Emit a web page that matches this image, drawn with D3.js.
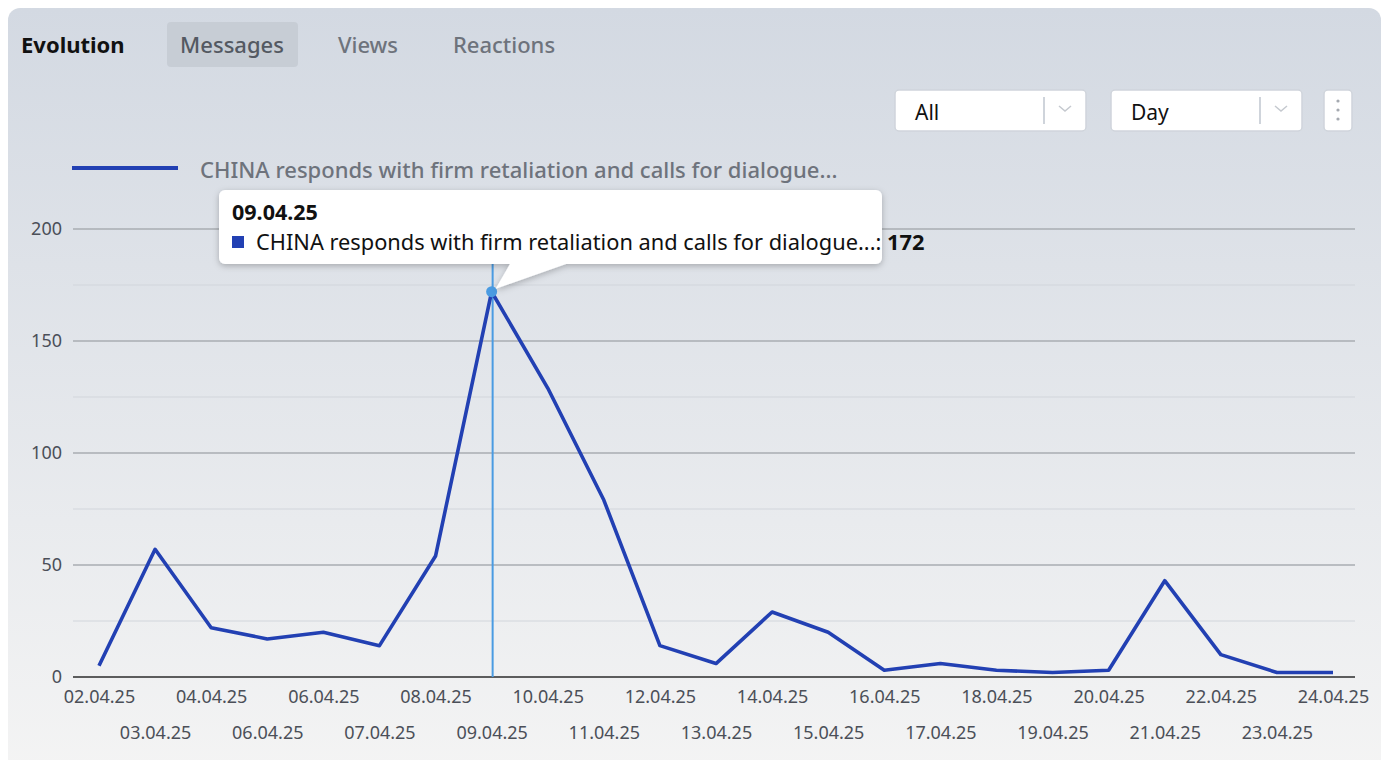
<!DOCTYPE html>
<html><head><meta charset="utf-8">
<script src="https://cdn.jsdelivr.net/npm/d3@7"></script>
<style>
html,body{margin:0;padding:0;background:#fff;}
svg{display:block;font-family:"Noto Sans",sans-serif;}
</style></head>
<body>
<svg id="chart" width="1388" height="760"></svg>
<script>
const dateLabels = ["02.04.25","03.04.25","04.04.25","06.04.25","06.04.25","07.04.25","08.04.25","09.04.25","10.04.25","11.04.25","12.04.25","13.04.25","14.04.25","15.04.25","16.04.25","17.04.25","18.04.25","19.04.25","20.04.25","21.04.25","22.04.25","23.04.25","24.04.25"];
const messages = [5,57,22,17,20,14,54,172,129,79,14,6,29,20,3,6,3,2,3,43,10,2,2];
const seriesName = "CHINA responds with firm retaliation and calls for dialogue...";
const yTicks = [0,50,100,150,200];
const yMinorTicks = [25,75,125,175];
const tabs = ["Messages","Views","Reactions"];
const highlightIndex = 7;

const svg = d3.select("#chart");
const defs = svg.append("defs");
const grad = defs.append("linearGradient").attr("id","bg").attr("x1",0).attr("y1",0).attr("x2",0).attr("y2",1);
grad.append("stop").attr("offset","0%").attr("stop-color","#d3d9e2");
grad.append("stop").attr("offset","100%").attr("stop-color","#f4f4f4");
const sh = defs.append("filter").attr("id","shadow").attr("x","-10%").attr("y","-30%").attr("width","120%").attr("height","170%");
sh.append("feDropShadow").attr("dx",0).attr("dy",2).attr("stdDeviation",3).attr("flood-color","#000").attr("flood-opacity",0.25);

// card
svg.append("rect").attr("x",8).attr("y",8).attr("width",1373).attr("height",770).attr("rx",12).attr("fill","url(#bg)");

// header
svg.append("text").attr("x",21).attr("y",53).attr("font-size",22).attr("font-weight",700).attr("fill","#111").text("Evolution");
svg.append("rect").attr("x",167).attr("y",22).attr("width",131).attr("height",45).attr("rx",4).attr("fill","#c7cdd5");
const tabX = [232,368,504];
tabs.forEach((t,i)=>{
  svg.append("text").attr("x",tabX[i]).attr("y",53).attr("text-anchor","middle").attr("font-size",22)
    .attr("font-weight",500).attr("fill", i===0?"#545962":"#6e737c").text(t);
});

// dropdowns
function dropdown(x,w,label){
  const g = svg.append("g");
  g.append("rect").attr("x",x).attr("y",90).attr("width",w).attr("height",41).attr("rx",4).attr("fill","#fff").attr("stroke","#cfd4db").attr("stroke-width",1.5);
  g.append("text").attr("x",x+20).attr("y",120).attr("font-size",21).attr("fill","#111").text(label);
  g.append("line").attr("x1",x+w-42).attr("x2",x+w-42).attr("y1",97).attr("y2",124).attr("stroke","#cfd4db").attr("stroke-width",2);
  g.append("path").attr("d",`M${x+w-27},106 l6,5 l6,-5`).attr("fill","none").attr("stroke","#c5c9cf").attr("stroke-width",1.5);
}
dropdown(895,191,"All");
dropdown(1111,191,"Day");
svg.append("rect").attr("x",1324).attr("y",90).attr("width",28).attr("height",41).attr("rx",4).attr("fill","#fff").attr("stroke","#cfd4db").attr("stroke-width",1.5);
[101,110,119].forEach(cy=>svg.append("circle").attr("cx",1338).attr("cy",cy).attr("r",1.6).attr("fill","#a5a9b0"));

// legend
svg.append("line").attr("x1",72).attr("x2",178).attr("y1",168).attr("y2",168).attr("stroke","#2240b3").attr("stroke-width",4);
svg.append("text").attr("x",200).attr("y",178).attr("font-size",22).attr("font-weight",500).attr("fill","#6e737c").text(seriesName);

// scales
const x = d3.scalePoint().domain(d3.range(dateLabels.length)).range([99,1333]);
const y = d3.scaleLinear().domain([0,200]).range([677,229]);
const plotX0 = 73, plotX1 = 1355;

// grid
svg.append("g").selectAll("line").data(yMinorTicks).join("line")
  .attr("x1",plotX0).attr("x2",plotX1).attr("y1",d=>y(d)).attr("y2",d=>y(d))
  .attr("stroke","#d2d6db").attr("stroke-width",1.2);
svg.append("g").selectAll("line").data(yTicks.filter(d=>d>0)).join("line")
  .attr("x1",plotX0).attr("x2",plotX1).attr("y1",d=>y(d)).attr("y2",d=>y(d))
  .attr("stroke","#a8acb2").attr("stroke-width",1.3);

// y axis labels
const yAxis = d3.axisLeft(y).tickValues(yTicks).tickSize(0).tickPadding(0);
const yg = svg.append("g").attr("transform",`translate(62,0)`).call(yAxis);
yg.select(".domain").remove();
yg.selectAll("text").attr("font-size",18).attr("fill","#4b4f58").attr("font-family","Noto Sans");

// x axis
svg.append("line").attr("x1",plotX0).attr("x2",plotX1).attr("y1",y(0)).attr("y2",y(0)).attr("stroke","#2b2b2b").attr("stroke-width",1.3);
const xAxis = d3.axisBottom(x).tickSize(0).tickFormat(i=>dateLabels[i]);
const xg = svg.append("g").attr("transform",`translate(0,${y(0)})`).call(xAxis);
xg.select(".domain").remove();
xg.selectAll("text").attr("font-size",18).attr("fill","#4b4f58").attr("font-family","Noto Sans")
  .attr("y",(i)=> i%2===0 ? 13 : 49).attr("dy","0.71em");

// highlight line
svg.append("line").attr("x1",x(highlightIndex)+1).attr("x2",x(highlightIndex)+1).attr("y1",262).attr("y2",y(0))
  .attr("stroke","#4a9be2").attr("stroke-width",2);

// series line
const line = d3.line().x((d,i)=>x(i)).y(d=>y(d));
svg.append("path").datum(messages).attr("d",line).attr("fill","none").attr("stroke","#2240b3").attr("stroke-width",3.6).attr("stroke-linejoin","round");

// dot
svg.append("circle").attr("cx",x(highlightIndex)).attr("cy",y(messages[highlightIndex])).attr("r",5.5).attr("fill","#4a9be2");

// tooltip
const px = x(highlightIndex), py = y(messages[highlightIndex]);
const tt = svg.append("g").attr("filter","url(#shadow)");
tt.append("path").attr("d",`M219,196 a6,6 0 0 1 6,-6 H876 a6,6 0 0 1 6,6 V258 a6,6 0 0 1 -6,6 H566 L${px+4},${py-3} L510,264 H225 a6,6 0 0 1 -6,-6 Z`).attr("fill","#fff");
svg.append("text").attr("x",232).attr("y",220).attr("font-size",21.5).attr("font-weight",700).attr("fill","#111").text(dateLabels[highlightIndex]);
svg.append("rect").attr("x",232).attr("y",236).attr("width",12).attr("height",12).attr("fill","#2240b3");
const tl = svg.append("text").attr("x",256).attr("y",250).attr("font-size",21.8).attr("fill","#111");
tl.append("tspan").text(seriesName + ": ");
tl.append("tspan").attr("font-weight",700).text(messages[highlightIndex]);
</script>
</body></html>
